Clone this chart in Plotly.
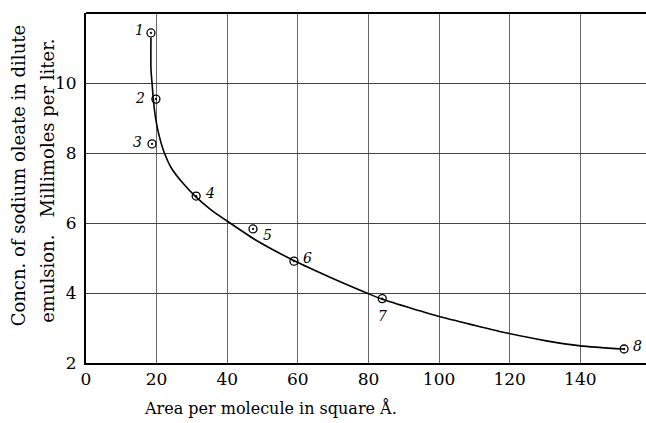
import plotly.graph_objects as go

# Measured points (area per molecule, concentration)
point_labels = ["1", "2", "3", "4", "5", "6", "7", "8"]
area = [18.4, 19.8, 18.7, 31.2, 47.3, 58.9, 83.9, 152.4]
conc = [11.43, 9.54, 8.26, 6.77, 5.83, 4.91, 3.84, 2.40]

# Smooth curve drawn through the points
curve_area = [18.4, 18.4, 18.7, 19.1, 19.8, 20.8, 22.2, 24.3, 27.6, 31.2, 35.5, 40.8, 48.3,
              59.0, 69.1, 79.5, 83.9, 94.6, 100.3, 109.5, 119.5, 130.0, 140.0, 152.2]
curve_conc = [11.3, 10.4, 10.0, 9.5, 8.94, 8.46, 8.0, 7.55, 7.12, 6.74, 6.37, 6.0, 5.5,
              4.92, 4.45, 4.0, 3.82, 3.49, 3.32, 3.09, 2.85, 2.64, 2.49, 2.40]

x_ticks = [0, 20, 40, 60, 80, 100, 120, 140]
y_ticks = [2, 4, 6, 8, 10]

# label offsets in pixels (style)
label_dx = [-11, -16, -15, 14, 14, 14, 0, 13]
label_dy = [3, 1, 2, 3, -6, 3, -17, 3]

SERIF = "DejaVu Serif, Liberation Serif, serif"

fig = go.Figure()
fig.add_trace(go.Scatter(
    x=curve_area, y=curve_conc, mode="lines",
    line=dict(color="black", width=1.6, shape="spline", smoothing=0.7),
    hoverinfo="skip", showlegend=False))
fig.add_trace(go.Scatter(
    x=area, y=conc, mode="markers",
    marker=dict(symbol="circle-open-dot", size=8, color="black", line=dict(width=1.3, color="black")),
    showlegend=False))

for lab, xv, yv, dx, dy in zip(point_labels, area, conc, label_dx, label_dy):
    fig.add_annotation(x=xv, y=yv, text="<i>%s</i>" % lab, showarrow=False,
                       xshift=dx, yshift=dy,
                       font=dict(family=SERIF, size=14, color="black"))

fig.add_annotation(xref="paper", yref="paper", x=-0.121, y=0.534,
                   text="Concn. of sodium oleate in dilute", textangle=-90,
                   showarrow=False, xanchor="center", yanchor="middle",
                   font=dict(family=SERIF, size=18, color="black"))
fig.add_annotation(xref="paper", yref="paper", x=-0.070, y=0.52,
                   text="emulsion.   Millimoles per liter.", textangle=-90,
                   showarrow=False, xanchor="center", yanchor="middle",
                   font=dict(family=SERIF, size=18, color="black"))
fig.add_annotation(xref="paper", yref="paper", x=0.329, y=-0.129,
                   text="Area per molecule in square Å.",
                   showarrow=False, xanchor="center", yanchor="middle",
                   font=dict(family=SERIF, size=16, color="black"))

fig.update_layout(
    width=646, height=423,
    margin=dict(l=86, r=0, t=13, b=60, autoexpand=False),
    paper_bgcolor="white", plot_bgcolor="white",
    font=dict(family=SERIF, size=17, color="black"),
    xaxis=dict(range=[0, 158.6], tickvals=x_ticks, ticktext=[str(v) for v in x_ticks],
               showgrid=True, gridcolor="#666", gridwidth=1,
               showline=True, linecolor="black", linewidth=2, mirror=False,
               ticks="", zeroline=False, automargin=False),
    yaxis=dict(range=[2, 12], tickvals=y_ticks, ticktext=[str(v) for v in y_ticks],
               showgrid=True, gridcolor="#444", gridwidth=1,
               showline=True, linecolor="black", linewidth=2, automargin=False,
               ticks="", zeroline=False, ticklabelstandoff=4),
)
fig.add_shape(type="line", xref="paper", yref="paper", x0=0, x1=1, y0=1, y1=1,
              line=dict(color="black", width=2))

fig.write_html("out.html", config={"displayModeBar": False},
               post_script="document.body.style.margin='0';document.body.style.padding='0';")
